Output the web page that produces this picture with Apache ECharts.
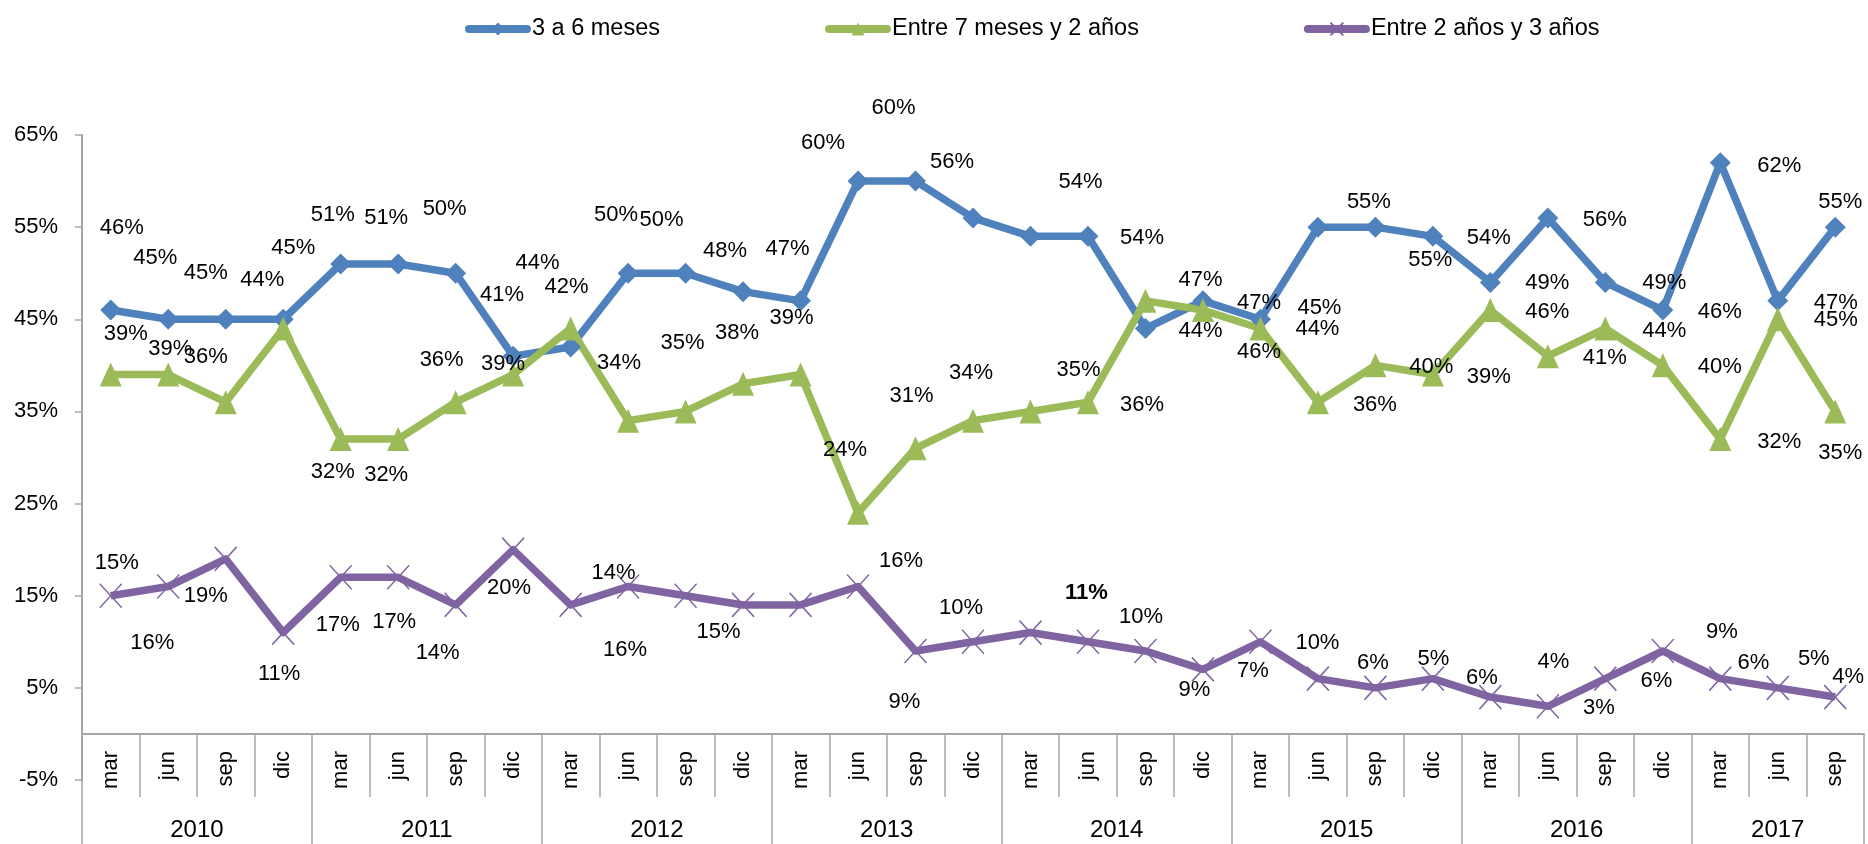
<!DOCTYPE html>
<html>
<head>
<meta charset="utf-8">
<script src="https://cdn.jsdelivr.net/npm/echarts@6/dist/echarts.min.js"></script>
<style>
  html, body { margin: 0; padding: 0; background: #fff; }
  #chart { width: 1868px; height: 844px; }
</style>
</head>
<body>
<div id="chart"></div>
<script>
// categories
var months = ["mar", "jun", "sep", "dic"];
var years = ["2010", "2011", "2012", "2013", "2014", "2015", "2016", "2017"];
var monthsPerYear = [4, 4, 4, 4, 4, 4, 4, 3];
var yTicks = [-5, 5, 15, 25, 35, 45, 55, 65];

// series values (%)
var seriesNames = ["3 a 6 meses", "Entre 7 meses y 2 años", "Entre 2 años y 3 años"];
var corto = [46, 45, 45, 45, 51, 51, 50, 41, 42, 50, 50, 48, 47, 60, 60, 56, 54, 54, 44, 47, 45, 55, 55, 54, 49, 56, 49, 46, 62, 47, 55];
var medio = [39, 39, 36, 44, 32, 32, 36, 39, 44, 34, 35, 38, 39, 24, 31, 34, 35, 36, 47, 46, 44, 36, 40, 39, 46, 41, 44, 40, 32, 45, 35];
var largo = [15, 16, 19, 11, 17, 17, 14, 20, 14, 16, 15, 14, 14, 16, 9, 10, 11, 10, 9, 7, 10, 6, 5, 6, 4, 3, 6, 9, 6, 5, 4];

// where each data label sits relative to its point (pixels), as in the original sheet
var cortoLabelShift = [[11,-82],[-13,-61],[-20,-46],[10,-71],[-8,-49],[-12,-46],[-11,-64],[-11,-61],[-4,-60],[-12,-58],[-24,-53],[-18,-41],[-13,-52],[-35,-38],[-22,-73],[-21,-56],[50,-54],[54,2],[55,2],[56,2],[59,-11],[51,-25],[55,33],[56,2],[57,1],[57,2],[59,1],[57,2],[59,3],[58,2],[5,-25]];
var medioLabelShift = [[15,-41],[2,-26],[-20,-45],[-21,-49],[-8,33],[-12,36],[-14,-42],[-10,-11],[-33,-66],[-9,-58],[-3,-68],[-6,-51],[-9,-57],[-13,-63],[-4,-52],[-2,-48],[48,-41],[54,3],[55,-21],[56,42],[57,0],[57,3],[56,2],[56,2],[57,2],[57,2],[59,2],[57,2],[59,3],[58,1],[5,42]];
var largoLabelShift = [[6,-33],[-16,56],[-20,37],[-4,41],[-3,48],[-4,45],[-18,48],[-4,38],[43,-32],[-3,63],[33,36],null,null,[43,-26],[-11,51],[-12,-34],[56,-40],[53,-25],[49,39],[50,2],[57,1],[55,-16],[58,-29],[49,-1],[63,-35],[51,2],[51,2],[59,-19],[33,-16],[36,-29],[13,-20]];
var boldLabel = { serie: 2, index: 16 };

// build category list and year positions
var categories = [];
var yearBounds = [0];
var yearCenters = [];
var pos = 0;
years.forEach(function (y, k) {
  for (var m = 0; m < monthsPerYear[k]; m++) categories.push(months[m]);
  yearCenters.push(pos + monthsPerYear[k] / 2);
  pos += monthsPerYear[k];
  yearBounds.push(pos);
});

var font = "Liberation Sans, Arial, sans-serif";
var grey = "#A6A6A6";

function buildData(values, shifts, serieIdx) {
  return values.map(function (v, i) {
    var s = shifts[i];
    if (!s) return { value: v, label: { show: false } };
    var lab = { offset: s };
    if (boldLabel.serie === serieIdx && boldLabel.index === i) lab.fontWeight = "bold";
    return { value: v, label: lab };
  });
}

var colors = ["#4F81BD", "#9BBB59", "#8064A2"];
var symbols = ["diamond", "triangle", "path://M0,0L10,11M10,0L0,11"];
var symbolSizes = [[21, 21], [22, 24], [22, 24]];

function makeSeries(idx, values, shifts) {
  return {
    name: seriesNames[idx],
    type: "line",
    data: buildData(values, shifts, idx),
    symbol: symbols[idx],
    symbolSize: symbolSizes[idx],
    showAllSymbol: true,
    lineStyle: { color: colors[idx], width: 7.5, join: "round" },
    itemStyle: {
      color: colors[idx],
      borderColor: colors[idx],
      borderWidth: idx === 2 ? 1.5 : 0
    },
    label: {
      show: true,
      position: "inside",
      formatter: "{c}%",
      color: "#000",
      fontFamily: font,
      fontSize: 22
    },
    emphasis: { disabled: true }
  };
}

var chart = echarts.init(document.getElementById("chart"));
var option = {
  animation: false,
  color: colors,
  textStyle: { fontFamily: font },
  legend: {
    top: 12,
    left: 460,
    itemWidth: 58,
    itemHeight: 16,
    itemGap: 165,
    lineStyle: { width: 8, cap: "round" },
    textStyle: { fontFamily: font, fontSize: 23.5, color: "#000" },
    data: seriesNames
  },
  grid: { left: 82, right: 4, top: 135, bottom: 64, containLabel: false },
  xAxis: [
    {
      type: "category",
      data: categories,
      boundaryGap: true,
      axisLine: { onZero: true, lineStyle: { color: grey, width: 2 } },
      axisTick: { show: true, interval: 0, length: 63, lineStyle: { color: grey, width: 1.5 } },
      axisLabel: { interval: 0, rotate: 90, margin: -29, fontSize: 22, color: "#000", fontFamily: font },
      splitLine: { show: false }
    },
    {
      type: "value",
      position: "bottom",
      min: 0,
      max: categories.length,
      axisLine: { show: false, onZero: false },
      axisTick: { show: true, length: 64, customValues: yearBounds, lineStyle: { color: grey, width: 1.5 } },
      axisLabel: {
        customValues: yearCenters,
        margin: 38,
        fontSize: 24,
        color: "#000",
        fontFamily: font,
        formatter: function (v) {
          var k = yearCenters.indexOf(v);
          return k >= 0 ? years[k] : "";
        }
      },
      splitLine: { show: false }
    }
  ],
  yAxis: {
    type: "value",
    min: yTicks[0],
    max: yTicks[yTicks.length - 1],
    axisLine: { show: true, lineStyle: { color: grey, width: 2 } },
    axisTick: { show: true, length: 7, customValues: yTicks, lineStyle: { color: grey, width: 1.5 } },
    axisLabel: {
      customValues: yTicks,
      formatter: "{value}%",
      margin: 24,
      fontSize: 22,
      color: "#000",
      fontFamily: font
    },
    splitLine: { show: false }
  },
  series: [
    makeSeries(0, corto, cortoLabelShift),
    makeSeries(1, medio, medioLabelShift),
    makeSeries(2, largo, largoLabelShift)
  ]
};
chart.setOption(option);
</script>
</body>
</html>
